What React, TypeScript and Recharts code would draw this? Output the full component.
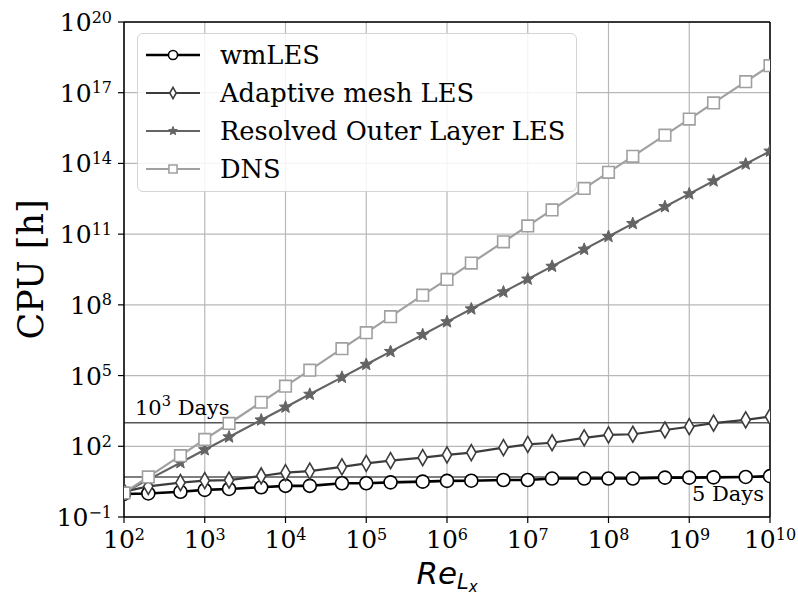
import React from 'react';
import { LineChart, Line, XAxis, YAxis, CartesianGrid, ReferenceLine, Legend } from 'recharts';

// Reynolds numbers sampled at 1, 2, 5 per decade
const reynolds = [
  1e2, 2e2, 5e2, 1e3, 2e3, 5e3, 1e4, 2e4, 5e4, 1e5, 2e5, 5e5, 1e6,
  2e6, 5e6, 1e7, 2e7, 5e7, 1e8, 2e8, 5e8, 1e9, 2e9, 5e9, 1e10,
];

// CPU hours per method
const wmLes = [
  0.95, 1.0, 1.17, 1.41, 1.55, 1.82, 2.1, 2.1, 2.7, 2.7, 2.95, 3.16, 3.4,
  3.47, 3.7, 3.7, 4.27, 4.27, 4.27, 4.27, 4.68, 4.68, 4.8, 5.0, 5.4,
];
const adaptiveLes = [
  1.2, 2.0, 2.85, 3.5, 3.7, 5.5, 7.6, 8.9, 13.5, 19, 24.5, 33, 43,
  54, 87, 120, 141, 229, 302, 324, 490, 676, 955, 1320, 1820,
];
const outerLayerLes = [
  1.1, 3.85, 20.2, 70.8, 248, 1300, 4570, 1.6e4, 8.4e4, 2.95e5, 1.04e6, 5.4e6, 1.9e7,
  6.7e7, 3.5e8, 1.23e9, 4.3e9, 2.26e10, 7.9e10, 2.8e11, 1.46e12, 5.1e12, 1.8e13, 9.4e13, 3.3e14,
];
const dns = [
  1.05, 5.0, 40, 195, 930, 7.4e3, 3.55e4, 1.7e5, 1.38e6, 6.6e6, 3.16e7, 2.57e8, 1.2e9,
  5.9e9, 4.7e10, 2.24e11, 1.07e12, 8.7e12, 4.2e13, 2.0e14, 1.58e15, 7.6e15, 3.7e16, 2.95e17, 1.41e18,
];

const xTicks = [1e2, 1e3, 1e4, 1e5, 1e6, 1e7, 1e8, 1e9, 1e10];
const yTicks = [1e-1, 1e2, 1e5, 1e8, 1e11, 1e14, 1e17, 1e20];
const minorXTicks: number[] = [];
for (let d = 2; d < 10; d++) {
  for (let m = 2; m < 10; m++) minorXTicks.push(m * Math.pow(10, d));
}

// reference budgets (hours)
const fiveDays = 5;
const thousandDays = 1e3;

const data = reynolds.map((re, i) => ({
  re,
  wm: wmLes[i],
  adaptive: adaptiveLes[i],
  outer: outerLayerLes[i],
  dns: dns[i],
}));

const SERIF = '"DejaVu Serif", serif';
const SANS = '"DejaVu Sans", sans-serif';

type Shape = 'circle' | 'diamond' | 'star' | 'square';

const markerPath = (shape: Shape, cx: number, cy: number, s: number) => {
  if (shape === 'diamond') {
    return `M${cx},${cy - 8 * s}L${cx + 4.6 * s},${cy}L${cx},${cy + 8 * s}L${cx - 4.6 * s},${cy}Z`;
  }
  if (shape === 'square') {
    const h = 5.8 * s;
    return `M${cx - h},${cy - h}h${2 * h}v${2 * h}h${-2 * h}Z`;
  }
  // five-pointed star
  const pts: string[] = [];
  for (let k = 0; k < 10; k++) {
    const r = (k % 2 === 0 ? 6.5 : 2.8) * s;
    const a = -Math.PI / 2 + (k * Math.PI) / 5;
    pts.push(`${cx + r * Math.cos(a)},${cy + r * Math.sin(a)}`);
  }
  return `M${pts.join('L')}Z`;
};

const Marker = ({ shape, cx, cy, color, s = 1 }: { shape: Shape; cx: number; cy: number; color: string; s?: number }) => {
  if (cx == null || cy == null) return null;
  if (shape === 'circle') {
    return <circle cx={cx} cy={cy} r={6.5 * s} fill="#fff" stroke={color} strokeWidth={1.6} />;
  }
  if (shape === 'star') {
    return <path d={markerPath(shape, cx, cy, s)} fill={color} stroke={color} strokeWidth={1} />;
  }
  return <path d={markerPath(shape, cx, cy, s)} fill="#fff" stroke={color} strokeWidth={1.6} />;
};

const series = [
  { key: 'wm', name: 'wmLES', color: '#000000', shape: 'circle' as Shape, width: 2.6 },
  { key: 'adaptive', name: 'Adaptive mesh LES', color: '#3c3c3c', shape: 'diamond' as Shape, width: 2.2 },
  { key: 'outer', name: 'Resolved Outer Layer LES', color: '#646464', shape: 'star' as Shape, width: 2.2 },
  { key: 'dns', name: 'DNS', color: '#a0a0a0', shape: 'square' as Shape, width: 2.2 },
];

const powerLabel = (v: number) => {
  const e = Math.round(Math.log10(v));
  return e < 0 ? `\u2212${-e}` : `${e}`;
};

const XTick = (props: any) => {
  const { x, y, payload } = props;
  return (
    <text x={x} y={y + 23} textAnchor="middle" fontFamily={SERIF} fontSize={25} fill="#000">
      <tspan>10</tspan>
      <tspan dy={-8.5} fontSize={16}>{powerLabel(payload.value)}</tspan>
    </text>
  );
};

const YTick = (props: any) => {
  const { x, y, payload } = props;
  return (
    <text x={x - 4} y={y + 9} textAnchor="end" fontFamily={SERIF} fontSize={25} fill="#000">
      <tspan>10</tspan>
      <tspan dy={-8.5} fontSize={16}>{powerLabel(payload.value)}</tspan>
    </text>
  );
};

const CpuLabel = (props: any) => {
  const { viewBox } = props;
  const cx = viewBox.x + 43;
  const cy = viewBox.y + viewBox.height / 2;
  return (
    <text x={cx} y={cy} transform={`rotate(-90 ${cx} ${cy})`} textAnchor="middle"
      fontFamily={SERIF} fontSize={35} fill="#000">
      CPU [h]
    </text>
  );
};

const ReLabel = (props: any) => {
  const { viewBox } = props;
  return (
    <text x={viewBox.x + viewBox.width / 2} y={viewBox.y + 67} textAnchor="middle"
      fontFamily={SANS} fontStyle="italic" fontSize={31} fill="#000">
      <tspan>Re</tspan>
      <tspan dy={5} fontSize={21}>L</tspan>
      <tspan dy={3} fontSize={15}>x</tspan>
    </text>
  );
};

const ThousandDaysLabel = (props: any) => {
  const { viewBox } = props;
  return (
    <text x={viewBox.x + 11} y={viewBox.y - 8} fontFamily={SERIF} fontSize={21} fill="#000">
      <tspan>10</tspan>
      <tspan dy={-9} fontSize={14.5}>3</tspan>
      <tspan dy={9}> Days</tspan>
    </text>
  );
};

const FiveDaysLabel = (props: any) => {
  const { viewBox } = props;
  return (
    <text x={viewBox.x + viewBox.width - 6} y={viewBox.y + 24} textAnchor="end" fontFamily={SERIF} fontSize={21} fill="#000">
      5 Days
    </text>
  );
};

const LegendBox = () => (
  <div
    style={{
      width: 440,
      height: 159,
      boxSizing: 'border-box',
      border: '1.3px solid #d4d4d4',
      borderRadius: 6,
      background: 'rgba(255,255,255,0.85)',
    }}
  >
    <svg width={438} height={157} style={{ display: 'block' }}>
      {series.map((s, i) => {
        const cy = 21 + i * 38;
        return (
          <g key={s.key}>
            <line x1={8} x2={62} y1={cy} y2={cy} stroke={s.color} strokeWidth={s.width} />
            <Marker shape={s.shape} cx={35} cy={cy} color={s.color} s={0.7} />
            <text x={82} y={cy + 9} fontFamily={SERIF} fontSize={25.7} fill="#000">{s.name}</text>
          </g>
        );
      })}
    </svg>
  </div>
);

export default function App() {
  return (
    <div style={{ position: 'absolute', left: 0, top: 0, background: '#fff' }}>
      <LineChart width={798} height={597} data={data} margin={{ top: 22, right: 28, bottom: 0, left: 0 }}>
        <CartesianGrid stroke="#b8b8b8" strokeWidth={1.2} />
        <XAxis
          xAxisId="minor"
          dataKey="re"
          type="number"
          scale="log"
          domain={[1e2, 1e10]}
          ticks={minorXTicks}
          tick={false}
          tickSize={3.5}
          tickLine={{ stroke: '#000', strokeWidth: 1 }}
          axisLine={false}
          height={0}
          allowDataOverflow
        />
        <XAxis
          dataKey="re"
          type="number"
          scale="log"
          domain={[1e2, 1e10]}
          ticks={xTicks}
          tick={<XTick />}
          tickSize={6}
          tickLine={{ stroke: '#000', strokeWidth: 1.2 }}
          axisLine={{ stroke: '#000', strokeWidth: 1.5 }}
          height={80}
          interval={0}
          allowDataOverflow
          label={<ReLabel />}
        />
        <YAxis
          type="number"
          scale="log"
          domain={[1e-1, 1e20]}
          ticks={yTicks}
          tick={<YTick />}
          tickSize={6}
          tickLine={{ stroke: '#000', strokeWidth: 1.2 }}
          axisLine={{ stroke: '#000', strokeWidth: 1.5 }}
          width={124}
          interval={0}
          allowDataOverflow
          label={<CpuLabel />}
        />
        <ReferenceLine y={1e20} stroke="#000" strokeWidth={1.5} />
        <ReferenceLine x={1e10} stroke="#000" strokeWidth={1.5} />
        <ReferenceLine y={thousandDays} stroke="#555" strokeWidth={1.6} label={<ThousandDaysLabel />} />
        <ReferenceLine y={fiveDays} stroke="#555" strokeWidth={1.6} label={<FiveDaysLabel />} />
        {series.map((s) => (
          <Line
            key={s.key}
            type="linear"
            dataKey={s.key}
            name={s.name}
            stroke={s.color}
            strokeWidth={s.width}
            isAnimationActive={false}
            dot={(p: any) => <Marker key={`${s.key}-${p.index}`} shape={s.shape} cx={p.cx} cy={p.cy} color={s.color} />}
          />
        ))}
        <Legend
          layout="horizontal"
          verticalAlign="middle"
          align="center"
          content={<LegendBox />}
          wrapperStyle={{ position: 'absolute', left: 137, top: 33, width: 440, height: 159 }}
        />
      </LineChart>
    </div>
  );
}
